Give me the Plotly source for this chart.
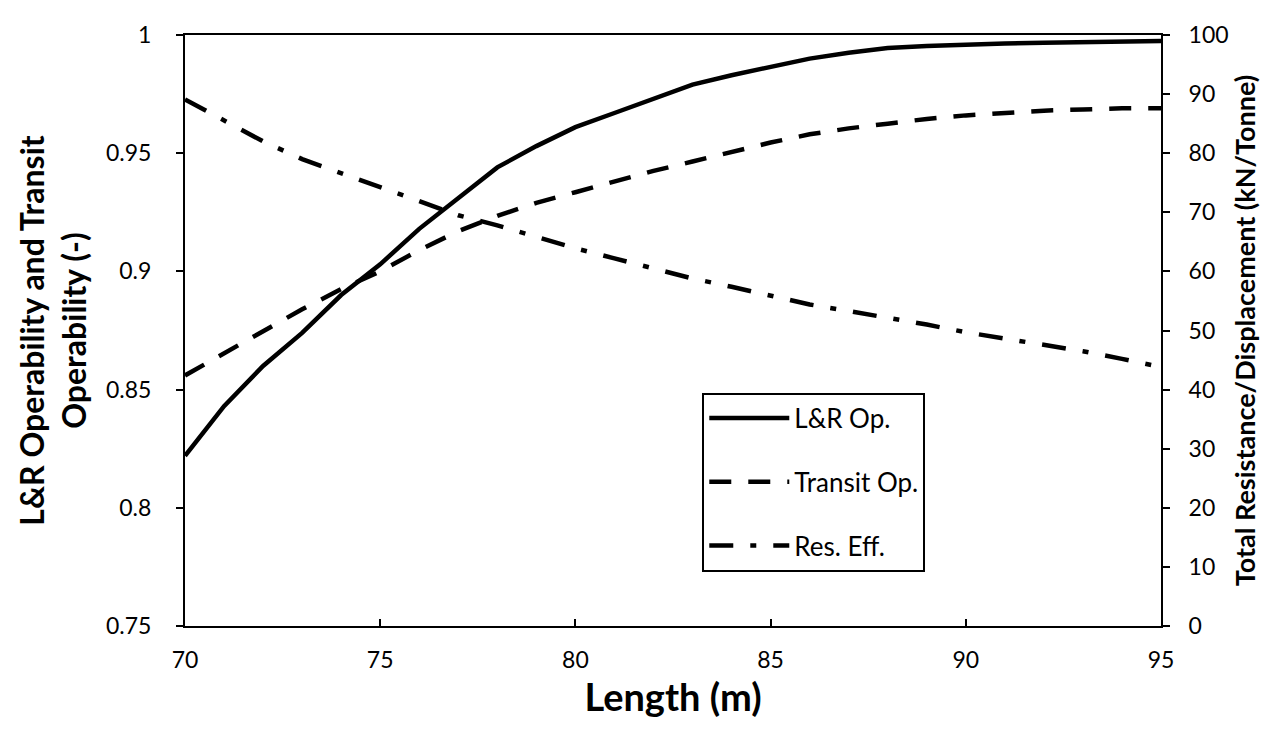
import plotly.graph_objects as go

length_m = [70, 71, 72, 73, 74, 75, 76, 77, 78, 79, 80, 81, 82, 83, 84, 85, 86, 87, 88, 89, 90, 91, 92, 93, 94, 95]
lr_op = [0.822, 0.843, 0.860, 0.874, 0.890, 0.903, 0.918, 0.931, 0.944, 0.953, 0.961, 0.967, 0.973,
         0.979, 0.983, 0.9865, 0.990, 0.9925, 0.9945, 0.9953, 0.996, 0.9964, 0.9967, 0.997, 0.9972, 0.9975]
transit_op = [0.856, 0.8655, 0.875, 0.884, 0.8925, 0.900, 0.909, 0.917, 0.9235, 0.929, 0.9335, 0.938,
              0.9425, 0.9465, 0.9505, 0.9545, 0.958, 0.9605, 0.9625, 0.9645, 0.966, 0.967, 0.968,
              0.9685, 0.969, 0.969]
res_eff = [89.1, 85.5, 82.0, 79.0, 76.6, 74.3, 71.9, 69.5, 67.8, 65.9, 63.9, 62.2, 60.5, 58.8, 57.4,
           55.9, 54.4, 53.3, 52.2, 51.0, 49.7, 48.6, 47.6, 46.5, 45.2, 43.8]

x_ticks = [70, 75, 80, 85, 90, 95]
y_left_ticks = [0.75, 0.8, 0.85, 0.9, 0.95, 1]
y_left_labels = ["0.75", "0.8", "0.85", "0.9", "0.95", "1"]
y_right_ticks = [0, 10, 20, 30, 40, 50, 60, 70, 80, 90, 100]

FONT = "Lato"

fig = go.Figure()
fig.add_trace(go.Scatter(x=length_m, y=lr_op, mode="lines", name="L&R Op.",
                         line=dict(color="black", width=4.5), legendgroup="a"))
fig.add_trace(go.Scatter(x=length_m, y=transit_op, mode="lines", name="Transit Op.",
                         line=dict(color="black", width=4.5, dash="22px,17px"), legendgroup="b"))
fig.add_trace(go.Scatter(x=length_m, y=res_eff, mode="lines", name="Res. Eff.", yaxis="y2",
                         line=dict(color="black", width=4.5, dash="24px,17px,6px,17px"), legendgroup="c"))

axis_common = dict(showline=True, linecolor="black", linewidth=2, tickwidth=1.5, tickcolor="black",
                   ticklen=7, showgrid=False, zeroline=False)

fig.update_layout(
    width=1268, height=730,
    margin=dict(l=177, r=115, t=18, b=112),
    paper_bgcolor="white", plot_bgcolor="white",
    showlegend=True,
    legend=dict(x=0.53, y=0.395, xanchor="left", yanchor="top",
                bgcolor="white", bordercolor="black", borderwidth=2,
                font=dict(family=FONT, size=26, color="black"),
                traceorder="grouped", tracegroupgap=27, itemwidth=80),
    xaxis=dict(range=[70, 95], tickvals=x_ticks, ticktext=[str(v) for v in x_ticks],
               mirror=True, ticks="inside",
               tickfont=dict(family=FONT, size=23, color="black"),
               ticklabelstandoff=12,
               title=dict(text="Length (m)", standoff=10,
                          font=dict(family=FONT, size=38, color="black", weight="bold")),
               **axis_common),
    yaxis=dict(range=[0.75, 1], tickvals=y_left_ticks, ticktext=y_left_labels,
               ticks="outside",
               tickfont=dict(family=FONT, size=23, color="black"),
               ticklabelstandoff=20,
               title=dict(text="L&R Operability and Transit<br>Operability (-)", standoff=10,
                          font=dict(family=FONT, size=32, color="black", weight="bold")),
               **axis_common),
    yaxis2=dict(range=[0, 100], tickvals=y_right_ticks, overlaying="y", side="right",
                ticks="outside",
                tickfont=dict(family=FONT, size=23, color="black"),
                ticklabelstandoff=14,
                title=dict(text="Total Resistance/Displacement (kN/Tonne)", standoff=8,
                           font=dict(family=FONT, size=27, color="black", weight="bold")),
                **axis_common),
)

fig.write_html("out.html")
